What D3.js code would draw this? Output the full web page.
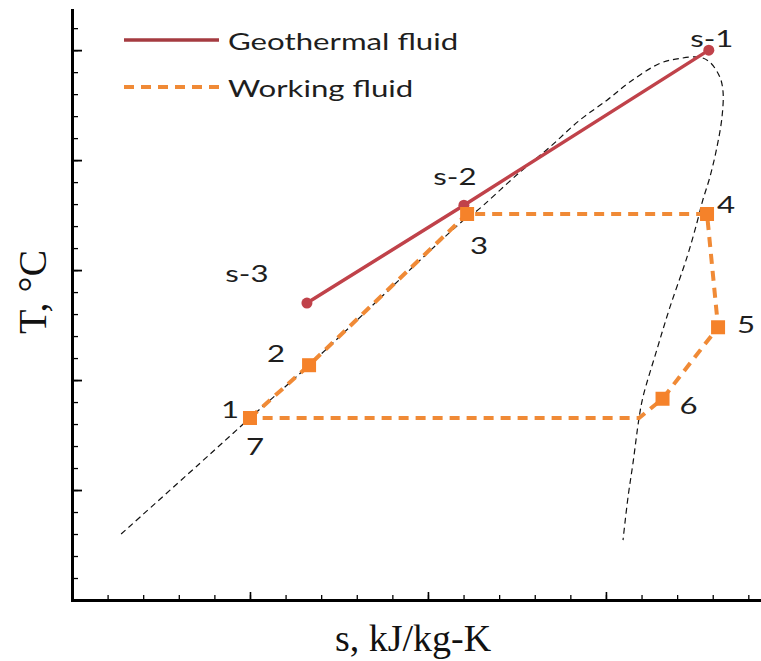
<!DOCTYPE html>
<html>
<head>
<meta charset="utf-8">
<script src="https://cdn.jsdelivr.net/npm/d3@7"></script>
<style>
  body { margin: 0; background: #fff; }
  .lbl { font-family: Lato, "Open Sans", sans-serif; font-size: 24px; fill: #1e1e1e; }
  .title { font-family: "Liberation Serif", "Times New Roman", serif; font-size: 40px; fill: #111; }
</style>
</head>
<body>
<svg width="761" height="661"></svg>
<script>
// geothermal fluid states (s in kJ/kg-K, T in °C)
const geoNames = ['s-3', 's-2', 's-1'];
const geoS = [1.660, 2.101, 2.789];
const geoT = [94.0, 111.8, 140.0];

// working fluid cycle, last entry closes back on state 1 (= 7)
const wfNames = ['1', '2', '3', '4', '5', '6', '', '7'];
const wfS = [1.500, 1.666, 2.110, 2.784, 2.815, 2.659, 2.593, 1.500];
const wfT = [73.1, 82.7, 110.2, 110.2, 89.6, 76.6, 73.1, 73.1];

// saturation dome
const domeS = [1.138, 1.360, 1.500, 1.666, 2.110, 2.132, 2.258, 2.343, 2.427, 2.503, 2.567, 2.652, 2.708,
  2.764, 2.792, 2.820, 2.829, 2.826, 2.812, 2.792, 2.772, 2.756, 2.728, 2.680, 2.643, 2.604, 2.593, 2.576, 2.562, 2.548];
const domeT = [52.0, 64.9, 73.1, 82.7, 109.6, 110.5, 117.8, 122.4, 127.3, 130.9, 134.2, 137.6, 138.5,
  138.7, 137.8, 135.1, 132.4, 127.8, 122.4, 116.9, 112.7, 108.7, 102.4, 93.3, 85.5, 76.9, 73.1, 64.9, 58.7, 50.9];

const legendLabels = ['Geothermal fluid', 'Working fluid'];

const svg = d3.select('svg');
const geoColor = '#C0424A';
const wfColor = '#F08A36';

const x = d3.scaleLinear().domain([1.0, 2.93]).range([72, 759]);
const y = d3.scaleLinear().domain([40, 147.3]).range([600, 10]);

// axes, ticks inward, no labels
const xMinor = d3.range(1.1, 2.95, 0.1);
const yMinor = d3.range(44, 147, 4);

svg.append('g').attr('transform', 'translate(0,600)')
  .call(d3.axisBottom(x).tickValues(xMinor).tickSize(-5).tickSizeOuter(0).tickFormat(''))
  .call(g => g.selectAll('.tick line').attr('stroke-width', 1.3))
  .call(g => g.select('.domain').remove());
svg.append('g').attr('transform', 'translate(0,600)')
  .call(d3.axisBottom(x).tickValues([1.5, 2.0, 2.5]).tickSize(-8).tickSizeOuter(0).tickFormat(''))
  .call(g => g.selectAll('.tick line').attr('stroke-width', 1.6))
  .call(g => g.select('.domain').attr('stroke-width', 3).attr('stroke-linecap', 'square'));

svg.append('g').attr('transform', 'translate(72,0)')
  .call(d3.axisLeft(y).tickValues(yMinor).tickSize(-6).tickSizeOuter(0).tickFormat(''))
  .call(g => g.selectAll('.tick line').attr('stroke-width', 1.3))
  .call(g => g.select('.domain').remove());
svg.append('g').attr('transform', 'translate(72,0)')
  .call(d3.axisLeft(y).tickValues([60, 80, 100, 120, 140]).tickSize(-10).tickSizeOuter(0).tickFormat(''))
  .call(g => g.selectAll('.tick line').attr('stroke-width', 1.8))
  .call(g => g.select('.domain').attr('stroke-width', 3).attr('stroke-linecap', 'square'));

// dome
const dome = domeS.map((s, i) => [s, domeT[i]]);
svg.append('path')
  .attr('d', d3.line().x(d => x(d[0])).y(d => y(d[1])).curve(d3.curveCatmullRom)(dome))
  .attr('fill', 'none').attr('stroke', '#111').attr('stroke-width', 1.2)
  .attr('stroke-dasharray', '6,4');

// working fluid
const wf = wfS.map((s, i) => ({ s, t: wfT[i], name: wfNames[i] }));
svg.append('path')
  .attr('d', d3.line().x(d => x(d.s)).y(d => y(d.t))(wf))
  .attr('fill', 'none').attr('stroke', wfColor).attr('stroke-width', 4)
  .attr('stroke-dasharray', '10,7');

// geothermal fluid
const geo = geoS.map((s, i) => ({ s, t: geoT[i], name: geoNames[i] }));
svg.append('path')
  .attr('d', d3.line().x(d => x(d.s)).y(d => y(d.t))(geo))
  .attr('fill', 'none').attr('stroke', geoColor).attr('stroke-width', 3.5);
svg.selectAll('.geoPt').data(geo).enter().append('circle')
  .attr('cx', d => x(d.s)).attr('cy', d => y(d.t)).attr('r', 5.5)
  .attr('fill', geoColor);

svg.selectAll('.wfPt').data(wf.filter(d => d.name && d.name !== '7')).enter().append('rect')
  .attr('x', d => x(d.s) - 7).attr('y', d => y(d.t) - 7)
  .attr('width', 14).attr('height', 14)
  .attr('fill', '#F5822A');

// point labels: offsets from the state point
const labelOffsets = {
  's-3': [-60, -21], 's-2': [-9, -20], 's-1': [3, -3],
  '1': [-20, 0], '2': [-33, -3], '3': [12, 40], '4': [19, -1], '5': [28, 6], '6': [26, 15], '7': [5, 37]
};
const labels = geo.concat(wf.filter(d => d.name));
svg.selectAll('.lbl').data(labels).enter().append('text')
  .attr('class', 'lbl')
  .attr('text-anchor', 'middle')
  .attr('transform', d => `translate(${x(d.s) + labelOffsets[d.name][0]},${y(d.t) + labelOffsets[d.name][1]}) scale(1.3,1)`)
  .text(d => d.name);

// legend
const leg = svg.append('g');
leg.append('line').attr('x1', 124).attr('x2', 219).attr('y1', 40).attr('y2', 40)
  .attr('stroke', '#A53B41').attr('stroke-width', 3.5);
leg.append('line').attr('x1', 124).attr('x2', 219).attr('y1', 87).attr('y2', 87)
  .attr('stroke', wfColor).attr('stroke-width', 4).attr('stroke-dasharray', '10,7');
leg.selectAll('text').data(legendLabels).enter().append('text')
  .attr('class', 'lbl')
  .attr('transform', (d, i) => `translate(228,${50 + i * 47}) scale(1.3,1)`)
  .text(d => d);

// axis titles
svg.append('text').attr('class', 'title')
  .attr('text-anchor', 'middle')
  .attr('transform', 'translate(46,292) rotate(-90)')
  .text('T, °C');
svg.append('text').attr('class', 'title')
  .attr('text-anchor', 'middle')
  .attr('x', 413).attr('y', 651)
  .style('font-size', '38px')
  .text('s, kJ/kg-K');
</script>
</body>
</html>
